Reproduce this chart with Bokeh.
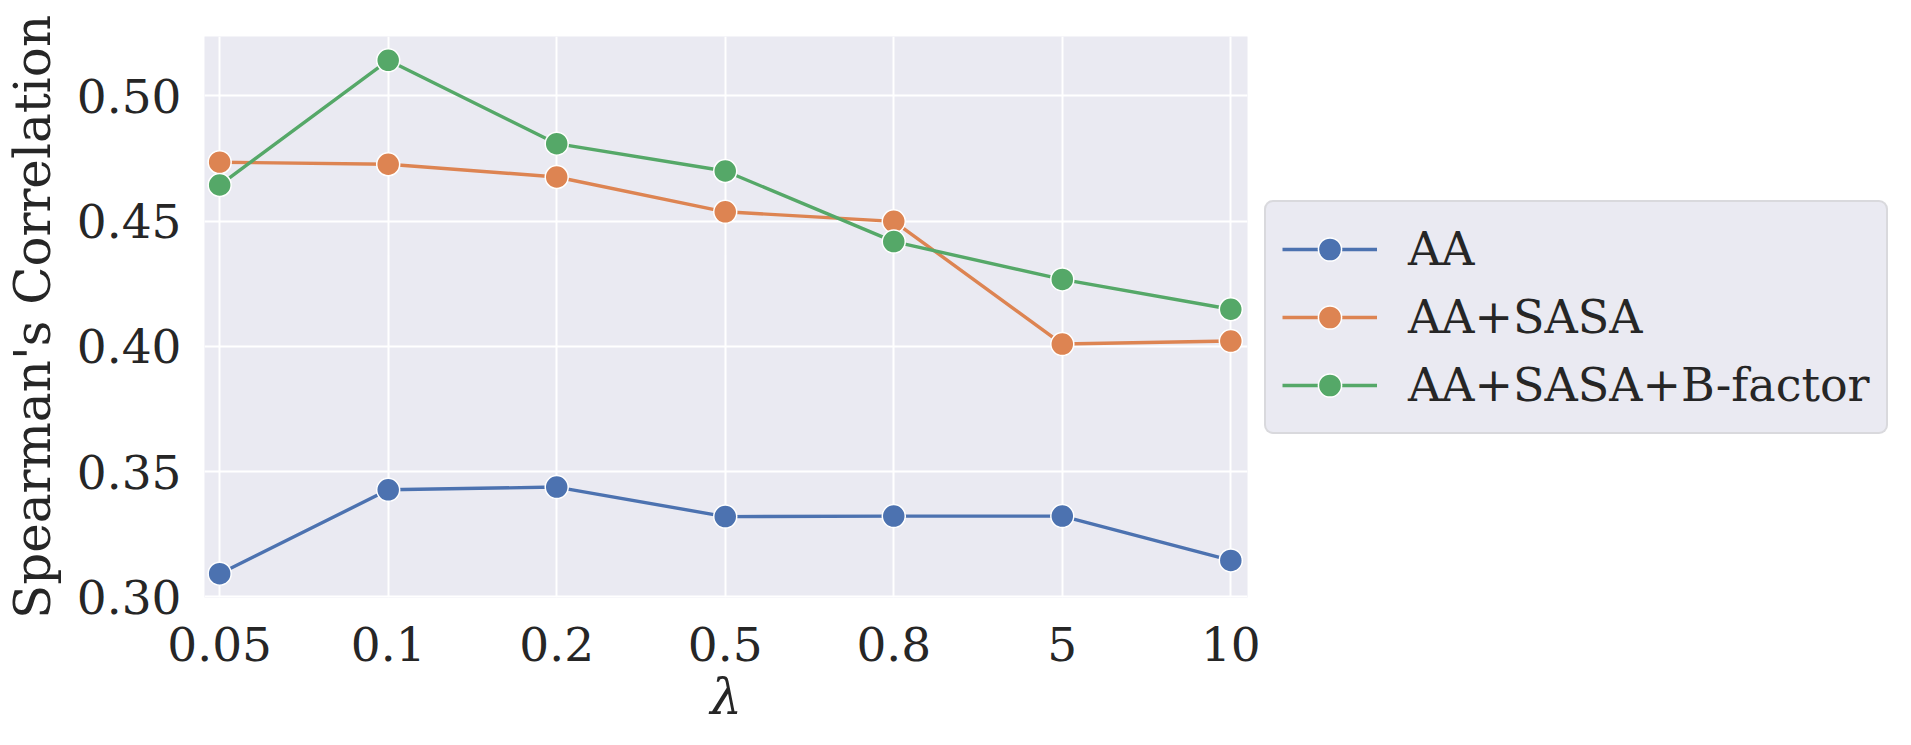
from bokeh.plotting import figure
from bokeh.models import Range1d, FixedTicker, PrintfTickFormatter, Legend, LegendItem
from bokeh.embed import file_html
from bokeh.resources import INLINE

lambdas = ["0.05", "0.1", "0.2", "0.5", "0.8", "5", "10"]
aa = [0.3092, 0.3427, 0.3438, 0.3320, 0.3322, 0.3322, 0.3145]
aa_sasa = [0.4735, 0.4727, 0.4676, 0.4537, 0.4499, 0.4009, 0.4021]
aa_sasa_b = [0.4644, 0.5142, 0.4809, 0.4700, 0.4418, 0.4267, 0.4148]
series_names = ["AA", "AA+SASA", "AA+SASA+B-factor"]
series_colors = ["#4C72B0", "#DD8452", "#55A868"]
y_ticks = [0.30, 0.35, 0.40, 0.45, 0.50]

FONT = "'DejaVu Serif', serif"
TXT = "#262626"

x_idx = list(range(len(lambdas)))

p = figure(frame_width=1043, frame_height=561, output_backend="svg", toolbar_location=None,
           x_range=Range1d(-0.09, 6.099), y_range=Range1d(0.2997, 0.5237),
           min_border_left=204, min_border_right=0, min_border_top=36, min_border_bottom=140)
p.background_fill_color = "#EAEAF2"
p.outline_line_color = None
p.border_fill_color = "white"

p.xgrid.grid_line_color = "white"
p.ygrid.grid_line_color = "white"
p.xgrid.grid_line_width = 2
p.ygrid.grid_line_width = 2

p.xaxis.ticker = FixedTicker(ticks=x_idx)
p.xaxis.major_label_overrides = {i: lab for i, lab in zip(x_idx, lambdas)}
p.yaxis.ticker = FixedTicker(ticks=y_ticks)
p.yaxis.formatter = PrintfTickFormatter(format="%.2f")

for ax in (p.xaxis, p.yaxis):
    ax.axis_line_color = None
    ax.major_tick_line_color = None
    ax.minor_tick_line_color = None
    ax.major_tick_out = 0
    ax.major_tick_in = 0
    ax.minor_tick_out = 0
    ax.minor_tick_in = 0
    ax.major_label_text_font = FONT
    ax.major_label_text_font_size = "47px"
    ax.major_label_text_color = TXT
    ax.axis_label_text_font = FONT
    ax.axis_label_text_font_size = "50px"
    ax.axis_label_text_color = TXT
    ax.axis_label_text_font_style = "normal"

p.xaxis.axis_label = "λ"
p.xaxis.axis_label_text_font_style = "italic"
p.yaxis.axis_label = "Spearman's Correlation"
p.xaxis.major_label_standoff = 29
p.yaxis.major_label_standoff = 23
p.xaxis.axis_label_standoff = 4
p.yaxis.axis_label_standoff = 12

items = []
for name, vals, col in zip(series_names, [aa, aa_sasa, aa_sasa_b], series_colors):
    l = p.line(x_idx, vals, line_color=col, line_width=3.4)
    s = p.scatter(x_idx, vals, size=23, fill_color=col, line_color="white", line_width=1.5)
    items.append(LegendItem(label=name, renderers=[l, s]))

legend = Legend(items=items, location="center_left")
legend.label_text_font = FONT
legend.label_text_font_size = "46px"
legend.label_text_color = TXT
legend.glyph_width = 95
legend.glyph_height = 58
legend.label_height = 62
legend.label_standoff = 31
legend.spacing = 6
legend.padding = 16
legend.margin = 17
legend.background_fill_color = "#EAEAF2"
legend.background_fill_alpha = 1.0
legend.border_line_color = "#C8C8C8"
legend.border_line_width = 2.5
if "border_radius" in Legend.properties():
    legend.border_radius = 9
p.add_layout(legend, "right")

open("out.html", "w").write(file_html(p, INLINE))
